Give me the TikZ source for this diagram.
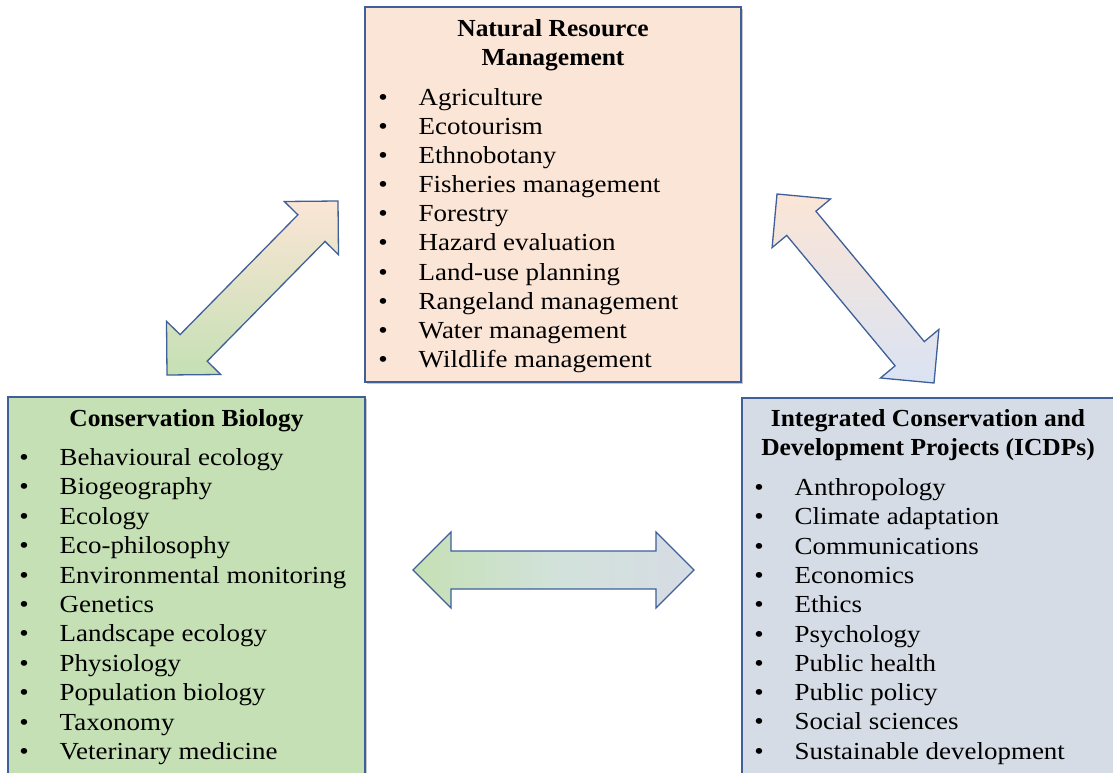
\documentclass[tikz,border=0pt]{standalone}
\usepackage{fontspec}
\setmainfont{Liberation Serif}[FakeStretch=1.1, BoldFeatures={FakeStretch=1.04}]
\usetikzlibrary{shadows}
\definecolor{peach}{HTML}{FBE5D6}
\definecolor{cbgreen}{HTML}{C5E0B4}
\definecolor{icdp}{HTML}{D6DCE5}
\definecolor{lblue}{HTML}{DAE3F3}
\definecolor{edge}{HTML}{3E5F98}
\newcommand{\itm}{\makebox[0pt]{\textbullet}\hspace{35.5pt}}
\tikzset{
  boxnode/.style={draw=edge, line width=1.4pt, rectangle, inner sep=0pt,
    drop shadow={shadow xshift=2pt, shadow yshift=-2pt, opacity=0.3, fill=black!70}},
  txt/.style={inner sep=0pt, anchor=base west, font=\fontsize{24.5}{#1}\selectfont},
  ttl/.style={inner sep=0pt, anchor=base, font=\fontsize{24.5}{29}\selectfont\bfseries},
  blockarrow/.style={draw=edge, line width=1.3pt, line join=miter},
}
\begin{document}
\begin{tikzpicture}[x=1pt, y=-1pt]
\clip (0,0) rectangle (1113,773);
\fill[white] (0,0) rectangle (1113,773);

% boxes
\node[boxnode, fill=peach, minimum width=376pt, minimum height=375pt] (nrm) at (553,194.5) {};
\node[boxnode, fill=cbgreen, minimum width=357pt, minimum height=393pt] (cb) at (186.5,593.5) {};
\node[boxnode, fill=icdp, minimum width=376pt, minimum height=392pt] (icdp) at (930,594) {};

% titles
\node[ttl] (nrmtitle) at (553,36.5) {\begin{tabular}[t]{@{}c@{}}Natural Resource\\Management\end{tabular}};
\node[ttl] (cbtitle) at (186.5,426.5) {Conservation Biology};
\node[ttl] (icdptitle) at (928,426.5) {\begin{tabular}[t]{@{}c@{}}Integrated Conservation and\\Development Projects (ICDPs)\end{tabular}};

% lists
\node[txt=29.1] (nrmlist) at (383,105.5) {\begin{tabular}[t]{@{}l@{}}
\itm Agriculture\\
\itm Ecotourism\\
\itm Ethnobotany\\
\itm Fisheries management\\
\itm Forestry\\
\itm Hazard evaluation\\
\itm Land-use planning\\
\itm Rangeland management\\
\itm Water management\\
\itm Wildlife management
\end{tabular}};

\node[txt=29.4] (cblist) at (24,465.5) {\begin{tabular}[t]{@{}l@{}}
\itm Behavioural ecology\\
\itm Biogeography\\
\itm Ecology\\
\itm Eco-philosophy\\
\itm Environmental monitoring\\
\itm Genetics\\
\itm Landscape ecology\\
\itm Physiology\\
\itm Population biology\\
\itm Taxonomy\\
\itm Veterinary medicine
\end{tabular}};

\node[txt=29.3] (icdplist) at (759,495.5) {\begin{tabular}[t]{@{}l@{}}
\itm Anthropology\\
\itm Climate adaptation\\
\itm Communications\\
\itm Economics\\
\itm Ethics\\
\itm Psychology\\
\itm Public health\\
\itm Public policy\\
\itm Social sciences\\
\itm Sustainable development
\end{tabular}};

% arrows
\path[blockarrow, top color=peach, bottom color=cbgreen, middle color=peach!50!cbgreen]
  (338.0,201.0) -- (338.5,254.7) -- (325.0,241.4) -- (207.2,361.2) -- (220.7,374.5)
  -- (167.0,375.0) -- (166.5,321.3) -- (180.1,334.6) -- (297.9,214.8) -- (284.3,201.5) -- cycle;

\path[blockarrow, top color=peach, bottom color=lblue, middle color=peach!50!lblue]
  (777.0,194.0) -- (772.1,247.6) -- (786.7,235.4) -- (895.1,365.8) -- (880.5,378.0)
  -- (934.0,383.0) -- (938.9,329.4) -- (924.3,341.6) -- (815.9,211.2) -- (830.5,199.0) -- cycle;

\path[blockarrow, left color=cbgreen, right color=icdp, middle color=lblue!60!cbgreen]
  (413,570) -- (451,532) -- (451,551) -- (656,551) -- (656,532) -- (694,570)
  -- (656,608) -- (656,589) -- (451,589) -- (451,608) -- cycle;
\end{tikzpicture}
\end{document}
